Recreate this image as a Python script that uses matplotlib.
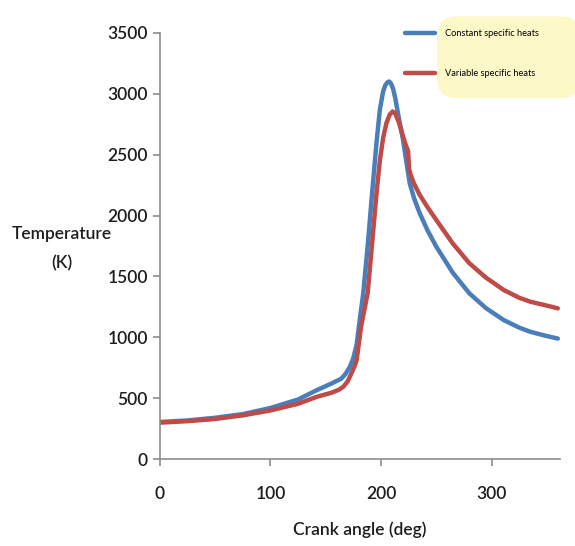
import matplotlib.pyplot as plt
from matplotlib.patches import FancyBboxPatch

angle_const = [0, 25, 50, 75, 100, 125, 142, 155, 164, 168, 172, 175, 178, 180, 184, 188, 192,
               196, 199, 202, 204, 206, 207.5, 209, 211, 213, 216, 220, 223, 226, 230, 235, 242,
               250, 265, 280, 295, 311, 325, 335, 348, 360]
temp_const = [305, 318, 340, 370, 420, 490, 567, 620, 660, 700, 760, 830, 940, 1087, 1364, 1750,
              2185, 2600, 2868, 3020, 3070, 3095, 3100, 3085, 3040, 2960, 2810, 2620, 2440, 2265,
              2140, 2020, 1880, 1745, 1530, 1361, 1240, 1142, 1080, 1046, 1015, 990]

angle_var = [0, 25, 50, 75, 100, 125, 142, 155, 162, 166, 170, 173, 176, 178, 182, 188, 192,
             196, 199, 202, 205, 208, 210.6, 213, 216, 219, 222, 224.5, 225.5, 227, 230, 235,
             242, 250, 265, 280, 295, 311, 325, 335, 348, 360]
temp_var = [300, 312, 330, 360, 400, 455, 512, 545, 570, 595, 640, 700, 760, 813, 1087, 1364,
            1770, 2185, 2450, 2640, 2760, 2830, 2854, 2835, 2770, 2680, 2590, 2530, 2380, 2330,
            2260, 2170, 2070, 1964, 1770, 1608, 1490, 1389, 1325, 1293, 1265, 1238]

fonts = ["Lato", "DejaVu Sans"]
blue = "#4a7ebb"
red = "#be4b48"
ink = "#1e1e1e"

fig = plt.figure(figsize=(5.75, 5.46), dpi=100)
ax = fig.add_axes([0.278, 0.159, 0.696, 0.781])

# yellow highlight behind legend
hl = FancyBboxPatch((0.765, 0.825), 0.24, 0.14, boxstyle="round,pad=0.005,rounding_size=0.035",
                    transform=fig.transFigure, facecolor="#fdf8c8", edgecolor="none",
                    zorder=0.5, clip_on=False)
ax.add_patch(hl)

ax.plot(angle_const, temp_const, color=blue, lw=3.2, label="Constant specific heats",
        solid_capstyle="round", zorder=2)
ax.plot(angle_var, temp_var, color=red, lw=3.2, label="Variable specific heats",
        solid_capstyle="round", zorder=2)

ax.set_xlim(0, 362)
ax.set_ylim(0, 3500)
ax.set_xticks([0, 100, 200, 300])
ax.set_yticks(range(0, 3501, 500))
ax.patch.set_alpha(0)

for s in ["top", "right"]:
    ax.spines[s].set_visible(False)
for s in ["left", "bottom"]:
    ax.spines[s].set_color("#8c8c8c")
    ax.spines[s].set_linewidth(1.2)
ax.tick_params(colors="#8c8c8c", length=5, width=1.2, labelcolor=ink)
ax.tick_params(axis="x", pad=14)
for lab in ax.get_xticklabels() + ax.get_yticklabels():
    lab.set_fontfamily(fonts)
    lab.set_fontsize(12.5)
    lab.set_fontweight("semibold")

ax.set_xlabel("Crank angle (deg)", fontsize=12.5, family=fonts, weight="semibold",
              color=ink, labelpad=14)
fig.text(0.108, 0.545, "Temperature\n(K)", ha="center", va="center", fontsize=12.5,
         family=fonts, weight="semibold", color=ink, linespacing=2.0)

leg = ax.legend(loc="upper right", bbox_to_anchor=(0.967, 1.028), frameon=False,
                prop={"family": fonts, "size": 6.7}, handlelength=3.3, labelspacing=3.3,
                handletextpad=1.0)
leg.set_zorder(5)

fig.savefig("out.png", dpi=100)
